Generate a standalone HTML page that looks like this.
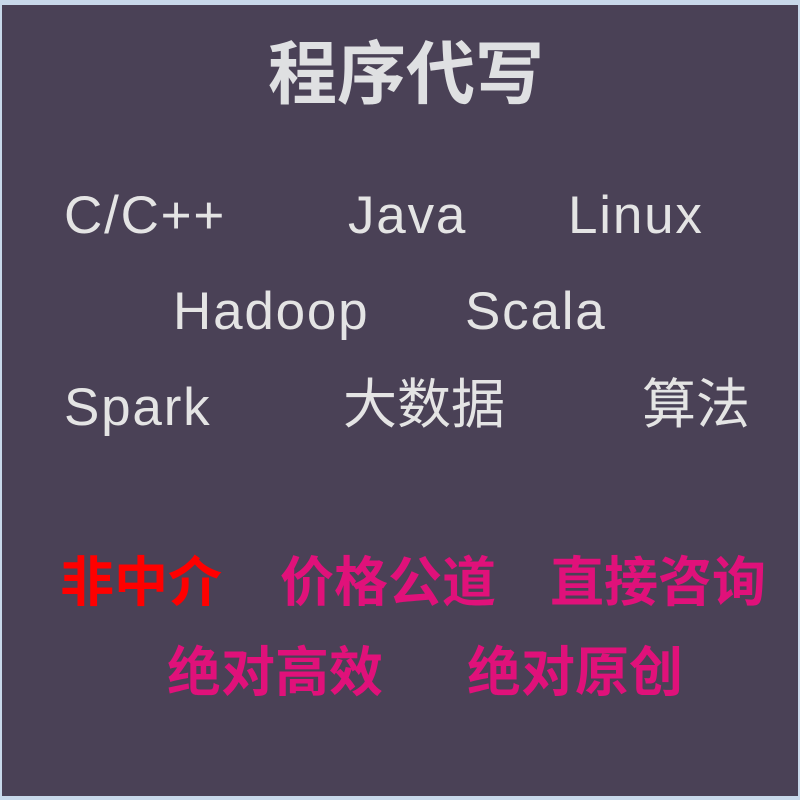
<!DOCTYPE html>
<html><head><meta charset="utf-8"><style>
html,body{margin:0;padding:0}
body{width:800px;height:800px;background:#c8d8ea;position:relative;overflow:hidden}
#bg{position:absolute;left:2px;top:5px;width:796px;height:791px;background:#4a4156}
.t{position:absolute;white-space:nowrap;line-height:1;font-family:"Liberation Sans","Noto Sans CJK SC",sans-serif}
.w{color:#e4e4e4;font-size:53px;letter-spacing:1.8px}
.z{color:#e4e4e4;font-size:54px}
.c{font-size:54px;font-weight:bold;color:#e0117a}
</style></head><body>
<div id="bg"></div>
<div class="t" style="left:268px;top:40px;font-size:69px;font-weight:bold;color:#dfe0e2">程序代写</div>
<div class="t w" style="left:64px;top:189px">C/C++</div>
<div class="t w" style="left:348px;top:189px">Java</div>
<div class="t w" style="left:568px;top:189px">Linux</div>
<div class="t w" style="left:173px;top:285px">Hadoop</div>
<div class="t w" style="left:465px;top:285px">Scala</div>
<div class="t w" style="left:64px;top:381px">Spark</div>
<div class="t z" style="left:343px;top:378px">大数据</div>
<div class="t z" style="left:642px;top:378px">算法</div>
<div class="t c" style="left:60px;top:556px;color:#ff0000">非中介</div>
<div class="t c" style="left:280px;top:556px">价格公道</div>
<div class="t c" style="left:550px;top:556px">直接咨询</div>
<div class="t c" style="left:167px;top:646px">绝对高效</div>
<div class="t c" style="left:467px;top:646px">绝对原创</div>
</body></html>
